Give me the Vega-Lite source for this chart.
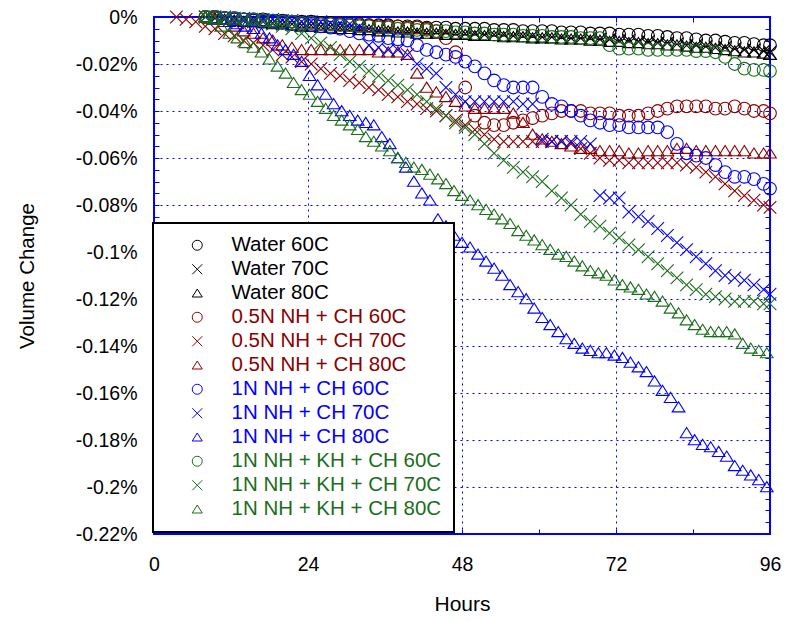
{
"$schema": "https://vega.github.io/schema/vega-lite/v6.json",
"width": 616, "height": 517,
"autosize": {"type": "none"},
"padding": {"left": 154, "top": 17, "right": 15, "bottom": 87},
"background": "white",
"config": {
  "font": "Liberation Sans",
  "view": {"stroke": "#0000ff", "strokeWidth": 2},
  "legend": {"strokeWidth": 2}
},
"data": {"values": [
{"s":"W60","h":8,"v":0},{"s":"W60","h":9.5,"v":0},{"s":"W60","h":11,"v":-0.0005},{"s":"W60","h":12.5,"v":-0.0005},{"s":"W60","h":14,"v":-0.001},{"s":"W60","h":15.5,"v":-0.001},{"s":"W60","h":17,"v":-0.001},{"s":"W60","h":18.5,"v":-0.0015},{"s":"W60","h":20,"v":-0.0015},{"s":"W60","h":21.5,"v":-0.002},{"s":"W60","h":23,"v":-0.002},{"s":"W60","h":24.5,"v":-0.002},{"s":"W60","h":26,"v":-0.0025},{"s":"W60","h":27.5,"v":-0.0025},{"s":"W60","h":29,"v":-0.003},{"s":"W60","h":30.5,"v":-0.003},{"s":"W60","h":32,"v":-0.003},{"s":"W60","h":33.5,"v":-0.0035},{"s":"W60","h":35,"v":-0.0035},{"s":"W60","h":36.5,"v":-0.0035},{"s":"W60","h":38,"v":-0.004},{"s":"W60","h":39.5,"v":-0.004},{"s":"W60","h":41,"v":-0.004},{"s":"W60","h":42.5,"v":-0.0045},{"s":"W60","h":44,"v":-0.0045},{"s":"W60","h":45.5,"v":-0.0045},{"s":"W60","h":47,"v":-0.005},{"s":"W60","h":48.5,"v":-0.005},{"s":"W60","h":50,"v":-0.005},{"s":"W60","h":51.5,"v":-0.005},{"s":"W60","h":53,"v":-0.0055},{"s":"W60","h":54.5,"v":-0.0055},{"s":"W60","h":56,"v":-0.0055},{"s":"W60","h":57.5,"v":-0.006},{"s":"W60","h":59,"v":-0.006},{"s":"W60","h":60.5,"v":-0.006},{"s":"W60","h":62,"v":-0.006},{"s":"W60","h":63.5,"v":-0.0065},{"s":"W60","h":65,"v":-0.0065},{"s":"W60","h":66.5,"v":-0.0065},{"s":"W60","h":68,"v":-0.007},{"s":"W60","h":69.5,"v":-0.007},{"s":"W60","h":71,"v":-0.007},{"s":"W60","h":72.5,"v":-0.0075},{"s":"W60","h":74,"v":-0.0075},{"s":"W60","h":75.5,"v":-0.0075},{"s":"W60","h":77,"v":-0.008},{"s":"W60","h":78.5,"v":-0.008},{"s":"W60","h":80,"v":-0.0085},{"s":"W60","h":81.5,"v":-0.009},{"s":"W60","h":83,"v":-0.009},{"s":"W60","h":84.5,"v":-0.0095},{"s":"W60","h":86,"v":-0.01},{"s":"W60","h":87.5,"v":-0.01},{"s":"W60","h":89,"v":-0.0105},{"s":"W60","h":90.5,"v":-0.011},{"s":"W60","h":92,"v":-0.011},{"s":"W60","h":93.5,"v":-0.0115},{"s":"W60","h":95,"v":-0.012},{"s":"W60","h":96,"v":-0.012},
{"s":"W70","h":8,"v":0},{"s":"W70","h":9.5,"v":-0.0005},{"s":"W70","h":11,"v":-0.001},{"s":"W70","h":12.5,"v":-0.001},{"s":"W70","h":14,"v":-0.0015},{"s":"W70","h":15.5,"v":-0.002},{"s":"W70","h":17,"v":-0.002},{"s":"W70","h":18.5,"v":-0.0025},{"s":"W70","h":20,"v":-0.003},{"s":"W70","h":21.5,"v":-0.003},{"s":"W70","h":23,"v":-0.0035},{"s":"W70","h":24.5,"v":-0.0035},{"s":"W70","h":26,"v":-0.004},{"s":"W70","h":27.5,"v":-0.004},{"s":"W70","h":29,"v":-0.0045},{"s":"W70","h":30.5,"v":-0.0045},{"s":"W70","h":32,"v":-0.005},{"s":"W70","h":33.5,"v":-0.005},{"s":"W70","h":35,"v":-0.0055},{"s":"W70","h":36.5,"v":-0.0055},{"s":"W70","h":38,"v":-0.006},{"s":"W70","h":39.5,"v":-0.006},{"s":"W70","h":41,"v":-0.006},{"s":"W70","h":42.5,"v":-0.0065},{"s":"W70","h":44,"v":-0.0065},{"s":"W70","h":45.5,"v":-0.0065},{"s":"W70","h":47,"v":-0.007},{"s":"W70","h":48.5,"v":-0.007},{"s":"W70","h":50,"v":-0.007},{"s":"W70","h":51.5,"v":-0.0075},{"s":"W70","h":53,"v":-0.0075},{"s":"W70","h":54.5,"v":-0.0075},{"s":"W70","h":56,"v":-0.008},{"s":"W70","h":57.5,"v":-0.008},{"s":"W70","h":59,"v":-0.008},{"s":"W70","h":60.5,"v":-0.0085},{"s":"W70","h":62,"v":-0.0085},{"s":"W70","h":63.5,"v":-0.0085},{"s":"W70","h":65,"v":-0.009},{"s":"W70","h":66.5,"v":-0.009},{"s":"W70","h":68,"v":-0.009},{"s":"W70","h":69.5,"v":-0.0095},{"s":"W70","h":71,"v":-0.0095},{"s":"W70","h":72.5,"v":-0.01},{"s":"W70","h":74,"v":-0.01},{"s":"W70","h":75.5,"v":-0.0105},{"s":"W70","h":77,"v":-0.0105},{"s":"W70","h":78.5,"v":-0.011},{"s":"W70","h":80,"v":-0.011},{"s":"W70","h":81.5,"v":-0.0115},{"s":"W70","h":83,"v":-0.012},{"s":"W70","h":84.5,"v":-0.012},{"s":"W70","h":86,"v":-0.0125},{"s":"W70","h":87.5,"v":-0.013},{"s":"W70","h":89,"v":-0.013},{"s":"W70","h":90.5,"v":-0.0135},{"s":"W70","h":92,"v":-0.014},{"s":"W70","h":93.5,"v":-0.014},{"s":"W70","h":95,"v":-0.0145},{"s":"W70","h":96,"v":-0.015},
{"s":"W80","h":8,"v":0},{"s":"W80","h":9.5,"v":-0.0005},{"s":"W80","h":11,"v":-0.001},{"s":"W80","h":12.5,"v":-0.0015},{"s":"W80","h":14,"v":-0.002},{"s":"W80","h":15.5,"v":-0.002},{"s":"W80","h":17,"v":-0.0025},{"s":"W80","h":18.5,"v":-0.003},{"s":"W80","h":20,"v":-0.003},{"s":"W80","h":21.5,"v":-0.0035},{"s":"W80","h":23,"v":-0.004},{"s":"W80","h":24.5,"v":-0.004},{"s":"W80","h":26,"v":-0.0045},{"s":"W80","h":27.5,"v":-0.0045},{"s":"W80","h":29,"v":-0.005},{"s":"W80","h":30.5,"v":-0.005},{"s":"W80","h":32,"v":-0.0055},{"s":"W80","h":33.5,"v":-0.0055},{"s":"W80","h":35,"v":-0.006},{"s":"W80","h":36.5,"v":-0.006},{"s":"W80","h":38,"v":-0.0065},{"s":"W80","h":39.5,"v":-0.0065},{"s":"W80","h":41,"v":-0.007},{"s":"W80","h":42.5,"v":-0.007},{"s":"W80","h":44,"v":-0.007},{"s":"W80","h":45.5,"v":-0.0075},{"s":"W80","h":47,"v":-0.0075},{"s":"W80","h":48.5,"v":-0.0075},{"s":"W80","h":50,"v":-0.008},{"s":"W80","h":51.5,"v":-0.008},{"s":"W80","h":53,"v":-0.008},{"s":"W80","h":54.5,"v":-0.0085},{"s":"W80","h":56,"v":-0.0085},{"s":"W80","h":57.5,"v":-0.0085},{"s":"W80","h":59,"v":-0.009},{"s":"W80","h":60.5,"v":-0.009},{"s":"W80","h":62,"v":-0.009},{"s":"W80","h":63.5,"v":-0.0095},{"s":"W80","h":65,"v":-0.0095},{"s":"W80","h":66.5,"v":-0.0095},{"s":"W80","h":68,"v":-0.01},{"s":"W80","h":69.5,"v":-0.01},{"s":"W80","h":71,"v":-0.0105},{"s":"W80","h":72.5,"v":-0.0105},{"s":"W80","h":74,"v":-0.011},{"s":"W80","h":75.5,"v":-0.011},{"s":"W80","h":77,"v":-0.0115},{"s":"W80","h":78.5,"v":-0.0115},{"s":"W80","h":80,"v":-0.012},{"s":"W80","h":81.5,"v":-0.012},{"s":"W80","h":83,"v":-0.0125},{"s":"W80","h":84.5,"v":-0.013},{"s":"W80","h":86,"v":-0.013},{"s":"W80","h":87.5,"v":-0.0135},{"s":"W80","h":89,"v":-0.014},{"s":"W80","h":90.5,"v":-0.0145},{"s":"W80","h":92,"v":-0.015},{"s":"W80","h":93.5,"v":-0.015},{"s":"W80","h":95,"v":-0.0155},{"s":"W80","h":96,"v":-0.016},
{"s":"R60","h":8,"v":0},{"s":"R60","h":9.5,"v":-0.0005},{"s":"R60","h":11,"v":-0.0005},{"s":"R60","h":12.5,"v":-0.001},{"s":"R60","h":14,"v":-0.001},{"s":"R60","h":15.5,"v":-0.0015},{"s":"R60","h":17,"v":-0.0015},{"s":"R60","h":18.5,"v":-0.002},{"s":"R60","h":20,"v":-0.002},{"s":"R60","h":21.5,"v":-0.002},{"s":"R60","h":23,"v":-0.0025},{"s":"R60","h":24.5,"v":-0.0025},{"s":"R60","h":26,"v":-0.003},{"s":"R60","h":27.5,"v":-0.003},{"s":"R60","h":29,"v":-0.003},{"s":"R60","h":30.5,"v":-0.0035},{"s":"R60","h":32,"v":-0.0035},{"s":"R60","h":33.5,"v":-0.0035},{"s":"R60","h":35,"v":-0.004},{"s":"R60","h":36.5,"v":-0.004},{"s":"R60","h":38,"v":-0.004},{"s":"R60","h":39.5,"v":-0.0045},{"s":"R60","h":41,"v":-0.0045},{"s":"R60","h":42.5,"v":-0.005},{"s":"R60","h":44,"v":-0.006},{"s":"R60","h":45.5,"v":-0.009},{"s":"R60","h":47,"v":-0.015},{"s":"R60","h":48.5,"v":-0.03},{"s":"R60","h":50,"v":-0.042},{"s":"R60","h":51.5,"v":-0.045},{"s":"R60","h":53,"v":-0.046},{"s":"R60","h":54.5,"v":-0.046},{"s":"R60","h":56,"v":-0.045},{"s":"R60","h":57.5,"v":-0.044},{"s":"R60","h":59,"v":-0.043},{"s":"R60","h":60.5,"v":-0.042},{"s":"R60","h":62,"v":-0.041},{"s":"R60","h":63.5,"v":-0.04},{"s":"R60","h":65,"v":-0.04},{"s":"R60","h":66.5,"v":-0.04},{"s":"R60","h":68,"v":-0.041},{"s":"R60","h":69.5,"v":-0.041},{"s":"R60","h":71,"v":-0.041},{"s":"R60","h":72.5,"v":-0.042},{"s":"R60","h":74,"v":-0.042},{"s":"R60","h":75.5,"v":-0.042},{"s":"R60","h":77,"v":-0.041},{"s":"R60","h":78.5,"v":-0.04},{"s":"R60","h":80,"v":-0.039},{"s":"R60","h":81.5,"v":-0.038},{"s":"R60","h":83,"v":-0.038},{"s":"R60","h":84.5,"v":-0.038},{"s":"R60","h":86,"v":-0.038},{"s":"R60","h":87.5,"v":-0.039},{"s":"R60","h":89,"v":-0.039},{"s":"R60","h":90.5,"v":-0.038},{"s":"R60","h":92,"v":-0.039},{"s":"R60","h":93.5,"v":-0.04},{"s":"R60","h":95,"v":-0.04},{"s":"R60","h":96,"v":-0.041},
{"s":"R70","h":3.5,"v":0},{"s":"R70","h":5,"v":-0.001},{"s":"R70","h":6.5,"v":-0.002},{"s":"R70","h":8,"v":-0.004},{"s":"R70","h":9.5,"v":-0.005},{"s":"R70","h":11,"v":-0.007},{"s":"R70","h":12.5,"v":-0.008},{"s":"R70","h":14,"v":-0.01},{"s":"R70","h":15.5,"v":-0.011},{"s":"R70","h":17,"v":-0.012},{"s":"R70","h":18.5,"v":-0.014},{"s":"R70","h":20,"v":-0.016},{"s":"R70","h":21.5,"v":-0.017},{"s":"R70","h":23,"v":-0.019},{"s":"R70","h":24.5,"v":-0.02},{"s":"R70","h":26,"v":-0.022},{"s":"R70","h":27.5,"v":-0.024},{"s":"R70","h":29,"v":-0.025},{"s":"R70","h":30.5,"v":-0.027},{"s":"R70","h":32,"v":-0.028},{"s":"R70","h":33.5,"v":-0.03},{"s":"R70","h":35,"v":-0.031},{"s":"R70","h":36.5,"v":-0.033},{"s":"R70","h":38,"v":-0.034},{"s":"R70","h":39.5,"v":-0.036},{"s":"R70","h":41,"v":-0.037},{"s":"R70","h":42.5,"v":-0.039},{"s":"R70","h":44,"v":-0.04},{"s":"R70","h":45.5,"v":-0.042},{"s":"R70","h":47,"v":-0.044},{"s":"R70","h":48.5,"v":-0.046},{"s":"R70","h":50,"v":-0.048},{"s":"R70","h":51.5,"v":-0.05},{"s":"R70","h":53,"v":-0.052},{"s":"R70","h":54.5,"v":-0.053},{"s":"R70","h":56,"v":-0.053},{"s":"R70","h":57.5,"v":-0.053},{"s":"R70","h":59,"v":-0.053},{"s":"R70","h":60.5,"v":-0.053},{"s":"R70","h":62,"v":-0.053},{"s":"R70","h":63.5,"v":-0.053},{"s":"R70","h":65,"v":-0.054},{"s":"R70","h":66.5,"v":-0.056},{"s":"R70","h":68,"v":-0.058},{"s":"R70","h":69.5,"v":-0.06},{"s":"R70","h":71,"v":-0.061},{"s":"R70","h":72.5,"v":-0.061},{"s":"R70","h":74,"v":-0.062},{"s":"R70","h":75.5,"v":-0.062},{"s":"R70","h":77,"v":-0.062},{"s":"R70","h":78.5,"v":-0.062},{"s":"R70","h":80,"v":-0.062},{"s":"R70","h":81.5,"v":-0.062},{"s":"R70","h":83,"v":-0.063},{"s":"R70","h":84.5,"v":-0.064},{"s":"R70","h":86,"v":-0.066},{"s":"R70","h":87.5,"v":-0.068},{"s":"R70","h":89,"v":-0.071},{"s":"R70","h":90.5,"v":-0.074},{"s":"R70","h":92,"v":-0.076},{"s":"R70","h":93.5,"v":-0.078},{"s":"R70","h":95,"v":-0.08},{"s":"R70","h":96,"v":-0.081},
{"s":"R80","h":8,"v":0},{"s":"R80","h":9.5,"v":-0.001},{"s":"R80","h":11,"v":-0.002},{"s":"R80","h":12.5,"v":-0.004},{"s":"R80","h":14,"v":-0.006},{"s":"R80","h":15.5,"v":-0.007},{"s":"R80","h":17,"v":-0.009},{"s":"R80","h":18.5,"v":-0.01},{"s":"R80","h":20,"v":-0.012},{"s":"R80","h":21.5,"v":-0.013},{"s":"R80","h":23,"v":-0.014},{"s":"R80","h":24.5,"v":-0.014},{"s":"R80","h":26,"v":-0.014},{"s":"R80","h":27.5,"v":-0.014},{"s":"R80","h":29,"v":-0.014},{"s":"R80","h":30.5,"v":-0.014},{"s":"R80","h":32,"v":-0.014},{"s":"R80","h":33.5,"v":-0.014},{"s":"R80","h":35,"v":-0.015},{"s":"R80","h":36.5,"v":-0.015},{"s":"R80","h":38,"v":-0.015},{"s":"R80","h":39.5,"v":-0.016},{"s":"R80","h":41,"v":-0.024},{"s":"R80","h":42.5,"v":-0.03},{"s":"R80","h":44,"v":-0.032},{"s":"R80","h":45.5,"v":-0.034},{"s":"R80","h":47,"v":-0.036},{"s":"R80","h":48.5,"v":-0.038},{"s":"R80","h":50,"v":-0.039},{"s":"R80","h":51.5,"v":-0.039},{"s":"R80","h":53,"v":-0.039},{"s":"R80","h":54.5,"v":-0.039},{"s":"R80","h":56,"v":-0.041},{"s":"R80","h":57.5,"v":-0.045},{"s":"R80","h":59,"v":-0.05},{"s":"R80","h":60.5,"v":-0.052},{"s":"R80","h":62,"v":-0.053},{"s":"R80","h":63.5,"v":-0.054},{"s":"R80","h":65,"v":-0.055},{"s":"R80","h":66.5,"v":-0.056},{"s":"R80","h":68,"v":-0.056},{"s":"R80","h":69.5,"v":-0.057},{"s":"R80","h":71,"v":-0.057},{"s":"R80","h":72.5,"v":-0.057},{"s":"R80","h":74,"v":-0.058},{"s":"R80","h":75.5,"v":-0.058},{"s":"R80","h":77,"v":-0.057},{"s":"R80","h":78.5,"v":-0.057},{"s":"R80","h":80,"v":-0.057},{"s":"R80","h":81.5,"v":-0.056},{"s":"R80","h":83,"v":-0.056},{"s":"R80","h":84.5,"v":-0.057},{"s":"R80","h":86,"v":-0.057},{"s":"R80","h":87.5,"v":-0.057},{"s":"R80","h":89,"v":-0.057},{"s":"R80","h":90.5,"v":-0.057},{"s":"R80","h":92,"v":-0.057},{"s":"R80","h":93.5,"v":-0.058},{"s":"R80","h":95,"v":-0.058},{"s":"R80","h":96,"v":-0.058},
{"s":"B60","h":9.5,"v":0},{"s":"B60","h":11,"v":-0.0005},{"s":"B60","h":12.5,"v":-0.001},{"s":"B60","h":14,"v":-0.001},{"s":"B60","h":15.5,"v":-0.0015},{"s":"B60","h":17,"v":-0.002},{"s":"B60","h":18.5,"v":-0.002},{"s":"B60","h":20,"v":-0.0025},{"s":"B60","h":21.5,"v":-0.003},{"s":"B60","h":23,"v":-0.003},{"s":"B60","h":24.5,"v":-0.0035},{"s":"B60","h":26,"v":-0.004},{"s":"B60","h":27.5,"v":-0.0045},{"s":"B60","h":29,"v":-0.005},{"s":"B60","h":30.5,"v":-0.006},{"s":"B60","h":32,"v":-0.007},{"s":"B60","h":33.5,"v":-0.0075},{"s":"B60","h":35,"v":-0.008},{"s":"B60","h":36.5,"v":-0.009},{"s":"B60","h":38,"v":-0.0095},{"s":"B60","h":39.5,"v":-0.01},{"s":"B60","h":41,"v":-0.012},{"s":"B60","h":42.5,"v":-0.014},{"s":"B60","h":44,"v":-0.015},{"s":"B60","h":45.5,"v":-0.016},{"s":"B60","h":47,"v":-0.017},{"s":"B60","h":48.5,"v":-0.019},{"s":"B60","h":50,"v":-0.021},{"s":"B60","h":51.5,"v":-0.024},{"s":"B60","h":53,"v":-0.027},{"s":"B60","h":54.5,"v":-0.029},{"s":"B60","h":56,"v":-0.03},{"s":"B60","h":57.5,"v":-0.03},{"s":"B60","h":59,"v":-0.03},{"s":"B60","h":60.5,"v":-0.034},{"s":"B60","h":62,"v":-0.037},{"s":"B60","h":63.5,"v":-0.038},{"s":"B60","h":65,"v":-0.04},{"s":"B60","h":66.5,"v":-0.042},{"s":"B60","h":68,"v":-0.044},{"s":"B60","h":69.5,"v":-0.045},{"s":"B60","h":71,"v":-0.046},{"s":"B60","h":72.5,"v":-0.046},{"s":"B60","h":74,"v":-0.047},{"s":"B60","h":75.5,"v":-0.047},{"s":"B60","h":77,"v":-0.047},{"s":"B60","h":78.5,"v":-0.047},{"s":"B60","h":80,"v":-0.049},{"s":"B60","h":81.5,"v":-0.054},{"s":"B60","h":83,"v":-0.058},{"s":"B60","h":84.5,"v":-0.059},{"s":"B60","h":86,"v":-0.06},{"s":"B60","h":87.5,"v":-0.063},{"s":"B60","h":89,"v":-0.066},{"s":"B60","h":90.5,"v":-0.068},{"s":"B60","h":92,"v":-0.068},{"s":"B60","h":93.5,"v":-0.069},{"s":"B60","h":95,"v":-0.071},{"s":"B60","h":96,"v":-0.073},
{"s":"B70","h":9.5,"v":0},{"s":"B70","h":11,"v":0},{"s":"B70","h":12.5,"v":-0.0005},{"s":"B70","h":14,"v":-0.0005},{"s":"B70","h":15.5,"v":-0.001},{"s":"B70","h":17,"v":-0.001},{"s":"B70","h":18.5,"v":-0.001},{"s":"B70","h":20,"v":-0.0015},{"s":"B70","h":21.5,"v":-0.0015},{"s":"B70","h":23,"v":-0.002},{"s":"B70","h":24.5,"v":-0.002},{"s":"B70","h":26,"v":-0.002},{"s":"B70","h":27.5,"v":-0.0025},{"s":"B70","h":29,"v":-0.0025},{"s":"B70","h":30.5,"v":-0.003},{"s":"B70","h":32,"v":-0.004},{"s":"B70","h":33.5,"v":-0.012},{"s":"B70","h":35,"v":-0.013},{"s":"B70","h":36.5,"v":-0.014},{"s":"B70","h":38,"v":-0.014},{"s":"B70","h":39.5,"v":-0.016},{"s":"B70","h":41,"v":-0.02},{"s":"B70","h":42.5,"v":-0.022},{"s":"B70","h":44,"v":-0.024},{"s":"B70","h":45.5,"v":-0.03},{"s":"B70","h":47,"v":-0.033},{"s":"B70","h":48.5,"v":-0.036},{"s":"B70","h":50,"v":-0.036},{"s":"B70","h":51.5,"v":-0.036},{"s":"B70","h":53,"v":-0.036},{"s":"B70","h":54.5,"v":-0.036},{"s":"B70","h":56,"v":-0.036},{"s":"B70","h":57.5,"v":-0.037},{"s":"B70","h":59,"v":-0.037},{"s":"B70","h":60.5,"v":-0.052},{"s":"B70","h":62,"v":-0.053},{"s":"B70","h":63.5,"v":-0.053},{"s":"B70","h":65,"v":-0.053},{"s":"B70","h":66.5,"v":-0.053},{"s":"B70","h":68,"v":-0.054},{"s":"B70","h":69.5,"v":-0.076},{"s":"B70","h":71,"v":-0.077},{"s":"B70","h":72.5,"v":-0.077},{"s":"B70","h":74,"v":-0.083},{"s":"B70","h":75.5,"v":-0.085},{"s":"B70","h":77,"v":-0.087},{"s":"B70","h":78.5,"v":-0.09},{"s":"B70","h":80,"v":-0.093},{"s":"B70","h":81.5,"v":-0.096},{"s":"B70","h":83,"v":-0.099},{"s":"B70","h":84.5,"v":-0.102},{"s":"B70","h":86,"v":-0.105},{"s":"B70","h":87.5,"v":-0.108},{"s":"B70","h":89,"v":-0.11},{"s":"B70","h":90.5,"v":-0.111},{"s":"B70","h":92,"v":-0.112},{"s":"B70","h":93.5,"v":-0.114},{"s":"B70","h":95,"v":-0.116},{"s":"B70","h":96,"v":-0.118},
{"s":"B80","h":8,"v":0},{"s":"B80","h":9.25,"v":-0.001},{"s":"B80","h":10.5,"v":-0.001},{"s":"B80","h":11.75,"v":-0.002},{"s":"B80","h":13,"v":-0.003},{"s":"B80","h":14.25,"v":-0.004},{"s":"B80","h":15.5,"v":-0.005},{"s":"B80","h":16.75,"v":-0.007},{"s":"B80","h":18,"v":-0.009},{"s":"B80","h":19.25,"v":-0.012},{"s":"B80","h":20.5,"v":-0.014},{"s":"B80","h":21.75,"v":-0.016},{"s":"B80","h":23,"v":-0.019},{"s":"B80","h":24.25,"v":-0.025},{"s":"B80","h":25.5,"v":-0.029},{"s":"B80","h":26.75,"v":-0.033},{"s":"B80","h":28,"v":-0.037},{"s":"B80","h":29.25,"v":-0.04},{"s":"B80","h":30.5,"v":-0.042},{"s":"B80","h":31.75,"v":-0.044},{"s":"B80","h":33,"v":-0.045},{"s":"B80","h":34.25,"v":-0.046},{"s":"B80","h":35.5,"v":-0.051},{"s":"B80","h":36.75,"v":-0.054},{"s":"B80","h":38,"v":-0.06},{"s":"B80","h":39.25,"v":-0.064},{"s":"B80","h":40.5,"v":-0.07},{"s":"B80","h":41.75,"v":-0.075},{"s":"B80","h":43,"v":-0.078},{"s":"B80","h":44.25,"v":-0.086},{"s":"B80","h":45.5,"v":-0.089},{"s":"B80","h":46.75,"v":-0.093},{"s":"B80","h":48,"v":-0.096},{"s":"B80","h":49.25,"v":-0.098},{"s":"B80","h":50.5,"v":-0.101},{"s":"B80","h":51.75,"v":-0.104},{"s":"B80","h":53,"v":-0.107},{"s":"B80","h":54.25,"v":-0.11},{"s":"B80","h":55.5,"v":-0.114},{"s":"B80","h":56.75,"v":-0.117},{"s":"B80","h":58,"v":-0.12},{"s":"B80","h":59.25,"v":-0.124},{"s":"B80","h":60.5,"v":-0.128},{"s":"B80","h":61.75,"v":-0.131},{"s":"B80","h":63,"v":-0.134},{"s":"B80","h":64.25,"v":-0.137},{"s":"B80","h":65.5,"v":-0.139},{"s":"B80","h":66.75,"v":-0.141},{"s":"B80","h":68,"v":-0.142},{"s":"B80","h":69.25,"v":-0.143},{"s":"B80","h":70.5,"v":-0.143},{"s":"B80","h":71.75,"v":-0.144},{"s":"B80","h":73,"v":-0.145},{"s":"B80","h":74.25,"v":-0.147},{"s":"B80","h":75.5,"v":-0.149},{"s":"B80","h":76.75,"v":-0.151},{"s":"B80","h":78,"v":-0.155},{"s":"B80","h":79.25,"v":-0.159},{"s":"B80","h":80.5,"v":-0.162},{"s":"B80","h":81.75,"v":-0.166},{"s":"B80","h":83,"v":-0.177},{"s":"B80","h":84.25,"v":-0.18},{"s":"B80","h":85.5,"v":-0.182},{"s":"B80","h":86.75,"v":-0.183},{"s":"B80","h":88,"v":-0.185},{"s":"B80","h":89.25,"v":-0.187},{"s":"B80","h":90.5,"v":-0.191},{"s":"B80","h":91.75,"v":-0.193},{"s":"B80","h":93,"v":-0.195},{"s":"B80","h":94.25,"v":-0.197},{"s":"B80","h":95.5,"v":-0.2},
{"s":"G60","h":8,"v":0},{"s":"G60","h":9.5,"v":0},{"s":"G60","h":11,"v":-0.0005},{"s":"G60","h":12.5,"v":-0.0005},{"s":"G60","h":14,"v":-0.001},{"s":"G60","h":15.5,"v":-0.001},{"s":"G60","h":17,"v":-0.0015},{"s":"G60","h":18.5,"v":-0.0015},{"s":"G60","h":20,"v":-0.002},{"s":"G60","h":21.5,"v":-0.002},{"s":"G60","h":23,"v":-0.0025},{"s":"G60","h":24.5,"v":-0.0025},{"s":"G60","h":26,"v":-0.003},{"s":"G60","h":27.5,"v":-0.003},{"s":"G60","h":29,"v":-0.0035},{"s":"G60","h":30.5,"v":-0.0035},{"s":"G60","h":32,"v":-0.004},{"s":"G60","h":33.5,"v":-0.004},{"s":"G60","h":35,"v":-0.0045},{"s":"G60","h":36.5,"v":-0.0045},{"s":"G60","h":38,"v":-0.005},{"s":"G60","h":39.5,"v":-0.005},{"s":"G60","h":41,"v":-0.0055},{"s":"G60","h":42.5,"v":-0.0055},{"s":"G60","h":44,"v":-0.006},{"s":"G60","h":45.5,"v":-0.006},{"s":"G60","h":47,"v":-0.0065},{"s":"G60","h":48.5,"v":-0.0065},{"s":"G60","h":50,"v":-0.007},{"s":"G60","h":51.5,"v":-0.007},{"s":"G60","h":53,"v":-0.0075},{"s":"G60","h":54.5,"v":-0.0075},{"s":"G60","h":56,"v":-0.0075},{"s":"G60","h":57.5,"v":-0.008},{"s":"G60","h":59,"v":-0.008},{"s":"G60","h":60.5,"v":-0.008},{"s":"G60","h":62,"v":-0.0085},{"s":"G60","h":63.5,"v":-0.0085},{"s":"G60","h":65,"v":-0.0085},{"s":"G60","h":66.5,"v":-0.009},{"s":"G60","h":68,"v":-0.009},{"s":"G60","h":69.5,"v":-0.009},{"s":"G60","h":71,"v":-0.012},{"s":"G60","h":72.5,"v":-0.0135},{"s":"G60","h":74,"v":-0.0135},{"s":"G60","h":75.5,"v":-0.0135},{"s":"G60","h":77,"v":-0.014},{"s":"G60","h":78.5,"v":-0.014},{"s":"G60","h":80,"v":-0.014},{"s":"G60","h":81.5,"v":-0.014},{"s":"G60","h":83,"v":-0.014},{"s":"G60","h":84.5,"v":-0.0145},{"s":"G60","h":86,"v":-0.0145},{"s":"G60","h":87.5,"v":-0.015},{"s":"G60","h":89,"v":-0.017},{"s":"G60","h":90.5,"v":-0.02},{"s":"G60","h":92,"v":-0.022},{"s":"G60","h":93.5,"v":-0.0225},{"s":"G60","h":95,"v":-0.0225},{"s":"G60","h":96,"v":-0.023},
{"s":"G70","h":8,"v":0},{"s":"G70","h":9.5,"v":0},{"s":"G70","h":11,"v":-0.0005},{"s":"G70","h":12.5,"v":-0.001},{"s":"G70","h":14,"v":-0.001},{"s":"G70","h":15.5,"v":-0.0015},{"s":"G70","h":17,"v":-0.002},{"s":"G70","h":18.5,"v":-0.003},{"s":"G70","h":20,"v":-0.004},{"s":"G70","h":21.5,"v":-0.005},{"s":"G70","h":23,"v":-0.007},{"s":"G70","h":24.5,"v":-0.009},{"s":"G70","h":26,"v":-0.011},{"s":"G70","h":27.5,"v":-0.013},{"s":"G70","h":29,"v":-0.016},{"s":"G70","h":30.5,"v":-0.019},{"s":"G70","h":32,"v":-0.021},{"s":"G70","h":33.5,"v":-0.023},{"s":"G70","h":35,"v":-0.025},{"s":"G70","h":36.5,"v":-0.027},{"s":"G70","h":38,"v":-0.029},{"s":"G70","h":39.5,"v":-0.031},{"s":"G70","h":41,"v":-0.033},{"s":"G70","h":42.5,"v":-0.036},{"s":"G70","h":44,"v":-0.039},{"s":"G70","h":45.5,"v":-0.042},{"s":"G70","h":47,"v":-0.045},{"s":"G70","h":48.5,"v":-0.047},{"s":"G70","h":50,"v":-0.05},{"s":"G70","h":51.5,"v":-0.054},{"s":"G70","h":53,"v":-0.058},{"s":"G70","h":54.5,"v":-0.061},{"s":"G70","h":56,"v":-0.064},{"s":"G70","h":57.5,"v":-0.066},{"s":"G70","h":59,"v":-0.068},{"s":"G70","h":60.5,"v":-0.07},{"s":"G70","h":62,"v":-0.074},{"s":"G70","h":63.5,"v":-0.077},{"s":"G70","h":65,"v":-0.08},{"s":"G70","h":66.5,"v":-0.084},{"s":"G70","h":68,"v":-0.087},{"s":"G70","h":69.5,"v":-0.089},{"s":"G70","h":71,"v":-0.092},{"s":"G70","h":72.5,"v":-0.094},{"s":"G70","h":74,"v":-0.097},{"s":"G70","h":75.5,"v":-0.099},{"s":"G70","h":77,"v":-0.102},{"s":"G70","h":78.5,"v":-0.105},{"s":"G70","h":80,"v":-0.108},{"s":"G70","h":81.5,"v":-0.111},{"s":"G70","h":83,"v":-0.114},{"s":"G70","h":84.5,"v":-0.116},{"s":"G70","h":86,"v":-0.118},{"s":"G70","h":87.5,"v":-0.119},{"s":"G70","h":89,"v":-0.12},{"s":"G70","h":90.5,"v":-0.121},{"s":"G70","h":92,"v":-0.121},{"s":"G70","h":93.5,"v":-0.121},{"s":"G70","h":95,"v":-0.122},{"s":"G70","h":96,"v":-0.122},
{"s":"G80","h":8,"v":0},{"s":"G80","h":9.25,"v":-0.001},{"s":"G80","h":10.5,"v":-0.004},{"s":"G80","h":11.75,"v":-0.007},{"s":"G80","h":13,"v":-0.009},{"s":"G80","h":14.25,"v":-0.011},{"s":"G80","h":15.5,"v":-0.013},{"s":"G80","h":16.75,"v":-0.015},{"s":"G80","h":18,"v":-0.018},{"s":"G80","h":19.25,"v":-0.021},{"s":"G80","h":20.5,"v":-0.024},{"s":"G80","h":21.75,"v":-0.028},{"s":"G80","h":23,"v":-0.031},{"s":"G80","h":24.25,"v":-0.033},{"s":"G80","h":25.5,"v":-0.036},{"s":"G80","h":26.75,"v":-0.039},{"s":"G80","h":28,"v":-0.042},{"s":"G80","h":29.25,"v":-0.044},{"s":"G80","h":30.5,"v":-0.046},{"s":"G80","h":31.75,"v":-0.048},{"s":"G80","h":33,"v":-0.051},{"s":"G80","h":34.25,"v":-0.053},{"s":"G80","h":35.5,"v":-0.055},{"s":"G80","h":36.75,"v":-0.057},{"s":"G80","h":38,"v":-0.06},{"s":"G80","h":39.25,"v":-0.062},{"s":"G80","h":40.5,"v":-0.064},{"s":"G80","h":41.75,"v":-0.065},{"s":"G80","h":43,"v":-0.067},{"s":"G80","h":44.25,"v":-0.069},{"s":"G80","h":45.5,"v":-0.071},{"s":"G80","h":46.75,"v":-0.074},{"s":"G80","h":48,"v":-0.076},{"s":"G80","h":49.25,"v":-0.078},{"s":"G80","h":50.5,"v":-0.08},{"s":"G80","h":51.75,"v":-0.082},{"s":"G80","h":53,"v":-0.084},{"s":"G80","h":54.25,"v":-0.086},{"s":"G80","h":55.5,"v":-0.088},{"s":"G80","h":56.75,"v":-0.091},{"s":"G80","h":58,"v":-0.093},{"s":"G80","h":59.25,"v":-0.095},{"s":"G80","h":60.5,"v":-0.097},{"s":"G80","h":61.75,"v":-0.099},{"s":"G80","h":63,"v":-0.101},{"s":"G80","h":64.25,"v":-0.102},{"s":"G80","h":65.5,"v":-0.104},{"s":"G80","h":66.75,"v":-0.106},{"s":"G80","h":68,"v":-0.108},{"s":"G80","h":69.25,"v":-0.109},{"s":"G80","h":70.5,"v":-0.11},{"s":"G80","h":71.75,"v":-0.112},{"s":"G80","h":73,"v":-0.114},{"s":"G80","h":74.25,"v":-0.115},{"s":"G80","h":75.5,"v":-0.116},{"s":"G80","h":76.75,"v":-0.118},{"s":"G80","h":78,"v":-0.119},{"s":"G80","h":79.25,"v":-0.121},{"s":"G80","h":80.5,"v":-0.124},{"s":"G80","h":81.75,"v":-0.126},{"s":"G80","h":83,"v":-0.129},{"s":"G80","h":84.25,"v":-0.131},{"s":"G80","h":85.5,"v":-0.133},{"s":"G80","h":86.75,"v":-0.134},{"s":"G80","h":88,"v":-0.134},{"s":"G80","h":89.25,"v":-0.134},{"s":"G80","h":90.5,"v":-0.135},{"s":"G80","h":91.75,"v":-0.139},{"s":"G80","h":93,"v":-0.141},{"s":"G80","h":94.25,"v":-0.142},{"s":"G80","h":95.5,"v":-0.143}
]},
"layer": [
{
 "mark": {"type": "point", "filled": false, "strokeWidth": 1.1, "size": 160, "opacity": 1},
 "encoding": {
  "x": {"field": "h", "type": "quantitative", "scale": {"domain": [0, 96], "nice": false, "zero": false},
   "axis": {"orient": "bottom", "values": [0,12,24,36,48,60,72,84,96],
    "labelExpr": "datum.value % 24 == 0 ? datum.label : ''",
    "labelFlush": false, "labelOverlap": false, "labelFontSize": 19.5, "labelColor": "black", "labelFont": "Liberation Sans",
    "labelPadding": 26, "tickSize": -5, "tickColor": "#0000ff", "tickWidth": 1, "domain": false,
    "grid": true, "gridColor": "#0000ff", "gridDash": [2, 4], "gridWidth": 1,
    "gridOpacity": {"condition": {"test": "datum.value % 24 == 0", "value": 1}, "value": 0},
    "title": "Hours", "titleFontSize": 21, "titleFontWeight": "normal", "titleColor": "black", "titleFont": "Liberation Sans", "titlePadding": 20}},
  "y": {"field": "v", "type": "quantitative", "scale": {"domain": [-0.22, 0], "nice": false, "zero": false},
   "axis": {"orient": "left", "values": [0,-0.005,-0.01,-0.015,-0.02,-0.025,-0.03,-0.035,-0.04,-0.045,-0.05,-0.055,-0.06,-0.065,-0.07,-0.075,-0.08,-0.085,-0.09,-0.095,-0.1,-0.105,-0.11,-0.115,-0.12,-0.125,-0.13,-0.135,-0.14,-0.145,-0.15,-0.155,-0.16,-0.165,-0.17,-0.175,-0.18,-0.185,-0.19,-0.195,-0.2,-0.205,-0.21,-0.215,-0.22],
    "labelExpr": "abs(datum.value*50 - round(datum.value*50)) < 0.001 ? datum.value + '%' : ''",
    "labelFlush": false, "labelOverlap": false, "labelFontSize": 19.5, "labelColor": "black", "labelFont": "Liberation Sans",
    "labelPadding": 22, "tickSize": -5, "tickColor": "#0000ff", "tickWidth": 1, "domain": false,
    "grid": true, "gridColor": "#0000ff", "gridDash": [2, 4], "gridWidth": 1,
    "gridOpacity": {"condition": {"test": "abs(datum.value*50 - round(datum.value*50)) < 0.001", "value": 1}, "value": 0},
    "title": "Volume Change", "titleFontSize": 20.5, "titleFontWeight": "normal", "titleColor": "black", "titleFont": "Liberation Sans", "titlePadding": 38}},
  "color": {"field": "s", "type": "nominal",
   "scale": {"domain": ["W60","W70","W80","R60","R70","R80","B60","B70","B80","G60","G70","G80"],
    "range": ["#000000","#000000","#000000","#8b0000","#8b0000","#8b0000","#0000ff","#0000ff","#0000ff","#1a6e1a","#1a6e1a","#1a6e1a"]},
   "legend": {"orient": "none", "legendX": -1, "legendY": 206, "title": null,
    "fillColor": "white", "strokeColor": "black", "padding": 12,
    "labelFont": "Liberation Sans", "labelFontSize": 20.5, "labelLimit": 400, "labelOffset": 24,
    "labelColor": {"expr": "substring(datum.value,0,1)=='W' ? '#000000' : substring(datum.value,0,1)=='R' ? '#8b0000' : substring(datum.value,0,1)=='B' ? '#0000ff' : '#1a6e1a'"},
    "labelExpr": "['Water 60C','Water 70C','Water 80C','0.5N NH + CH 60C','0.5N NH + CH 70C','0.5N NH + CH 80C','1N NH + CH 60C','1N NH + CH 70C','1N NH + CH 80C','1N NH + KH + CH 60C','1N NH + KH + CH 70C','1N NH + KH + CH 80C'][indexof(['W60','W70','W80','R60','R70','R80','B60','B70','B80','G60','G70','G80'], datum.value)]",
    "symbolSize": 100, "symbolStrokeWidth": 1, "symbolOffset": 22, "rowPadding": 3}},
  "shape": {"field": "s", "type": "nominal",
   "scale": {"domain": ["W60","W70","W80","R60","R70","R80","B60","B70","B80","G60","G70","G80"],
    "range": ["circle","M-1,-1L1,1M-1,1L1,-1","M-1,0.75L0,-0.85L1,0.75Z","circle","M-1,-1L1,1M-1,1L1,-1","M-1,0.75L0,-0.85L1,0.75Z","circle","M-1,-1L1,1M-1,1L1,-1","M-1,0.75L0,-0.85L1,0.75Z","circle","M-1,-1L1,1M-1,1L1,-1","M-1,0.75L0,-0.85L1,0.75Z"]},
   "legend": {"orient": "none", "legendX": -1, "legendY": 206, "title": null,
    "fillColor": "white", "strokeColor": "black", "padding": 12,
    "labelFont": "Liberation Sans", "labelFontSize": 20.5, "labelLimit": 400, "labelOffset": 24,
    "labelColor": {"expr": "substring(datum.value,0,1)=='W' ? '#000000' : substring(datum.value,0,1)=='R' ? '#8b0000' : substring(datum.value,0,1)=='B' ? '#0000ff' : '#1a6e1a'"},
    "labelExpr": "['Water 60C','Water 70C','Water 80C','0.5N NH + CH 60C','0.5N NH + CH 70C','0.5N NH + CH 80C','1N NH + CH 60C','1N NH + CH 70C','1N NH + CH 80C','1N NH + KH + CH 60C','1N NH + KH + CH 70C','1N NH + KH + CH 80C'][indexof(['W60','W70','W80','R60','R70','R80','B60','B70','B80','G60','G70','G80'], datum.value)]",
    "symbolSize": 100, "symbolStrokeWidth": 1, "symbolOffset": 22, "rowPadding": 3}}
 }
},
{
 "data": {"values": [{"h": 0, "v": 0}]},
 "mark": {"type": "point", "opacity": 0},
 "encoding": {
  "x": {"field": "h", "type": "quantitative", "scale": {"domain": [0, 96], "nice": false, "zero": false},
   "axis": {"orient": "top", "values": [0,12,24,36,48,60,72,84,96], "labels": false, "grid": false, "domain": false,
    "ticks": true, "tickSize": -5, "tickColor": "#0000ff", "tickWidth": 1, "title": null}},
  "y": {"field": "v", "type": "quantitative", "scale": {"domain": [-0.22, 0], "nice": false, "zero": false},
   "axis": {"orient": "right", "values": [0,-0.005,-0.01,-0.015,-0.02,-0.025,-0.03,-0.035,-0.04,-0.045,-0.05,-0.055,-0.06,-0.065,-0.07,-0.075,-0.08,-0.085,-0.09,-0.095,-0.1,-0.105,-0.11,-0.115,-0.12,-0.125,-0.13,-0.135,-0.14,-0.145,-0.15,-0.155,-0.16,-0.165,-0.17,-0.175,-0.18,-0.185,-0.19,-0.195,-0.2,-0.205,-0.21,-0.215,-0.22],
    "labels": false, "grid": false, "domain": false, "ticks": true, "tickSize": -5, "tickColor": "#0000ff", "tickWidth": 1, "title": null}}
 }
}
],
"resolve": {"axis": {"x": "independent", "y": "independent"}}
}
